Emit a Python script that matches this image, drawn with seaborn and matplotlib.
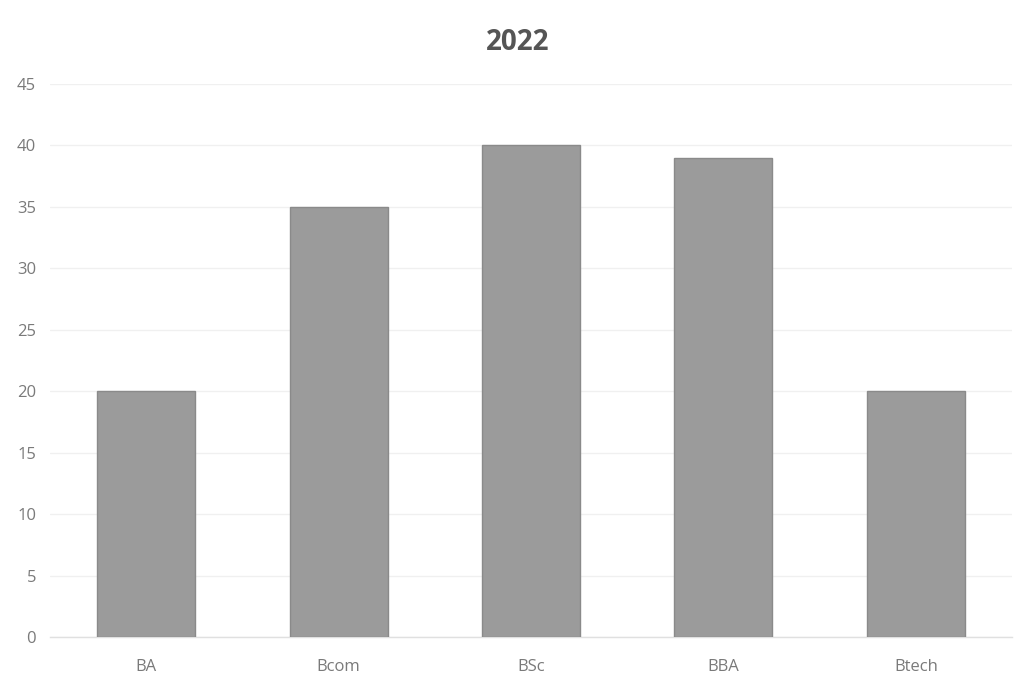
import matplotlib
matplotlib.use("Agg")
import matplotlib.pyplot as plt
import seaborn as sns
import pandas as pd

# Enrolment by course, 2022
courses = ["BA", "Bcom", "BSc", "BBA", "Btech"]
counts = [20, 35, 40, 39, 20]
y_ticks = [0, 5, 10, 15, 20, 25, 30, 35, 40, 45]
title = "2022"

df = pd.DataFrame({"course": courses, "count": counts})

sns.set_theme(style="white")
plt.rcParams["font.family"] = ["Open Sans", "DejaVu Sans"]

fig = plt.figure(figsize=(10.26, 6.97), dpi=100)
ax = fig.add_axes([0.0487, 0.0861, 0.9377, 0.7934])

sns.barplot(data=df, x="course", y="count", color="#9b9b9b", width=0.51,
            edgecolor="#8a8a8a", linewidth=1.0, saturation=1, ax=ax, zorder=3)

ax.set_xlim(-0.5, len(courses) - 0.5)
ax.set_ylim(0, 45)
ax.set_yticks(y_ticks)
ax.set_yticklabels([str(t) for t in y_ticks])
ax.yaxis.grid(True, color="#f0f0f0", linewidth=1.0, zorder=0)
ax.set_axisbelow(True)

for side in ["top", "right", "left"]:
    ax.spines[side].set_visible(False)
ax.spines["bottom"].set_color("#e0e0e0")
ax.spines["bottom"].set_linewidth(1.0)

ax.tick_params(axis="both", length=0, labelsize=12, colors="#7a7a7a")
ax.tick_params(axis="y", pad=10)
ax.tick_params(axis="x", pad=16)
ax.set_xlabel("")
ax.set_ylabel("")

fig.suptitle(title, x=0.505, y=0.96, fontsize=20, fontweight="bold", color="#555555")

fig.savefig("out.png", dpi=100, facecolor="white")
